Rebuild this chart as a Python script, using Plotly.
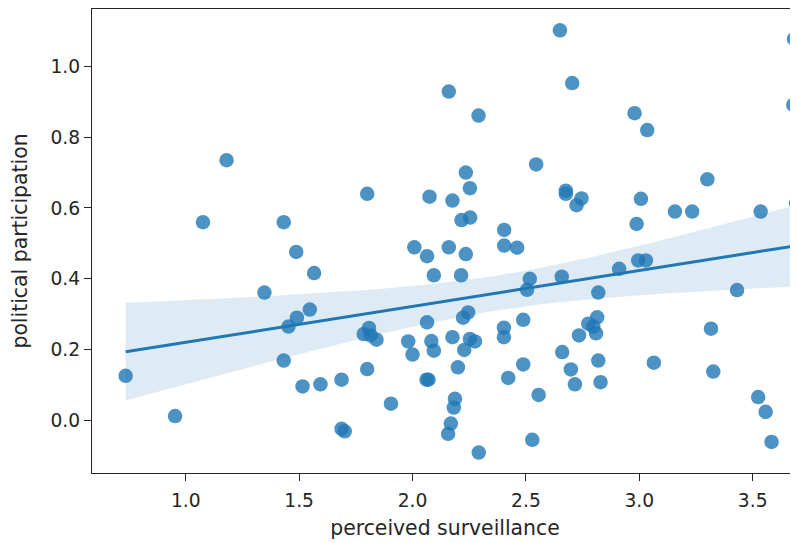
import numpy as np
import plotly.graph_objects as go

# perceived surveillance (x) and political participation (y)
surveillance = [
    0.735, 0.953, 1.076, 1.180, 1.347, 1.432, 1.432, 1.453, 1.490, 1.487,
    1.547, 1.566, 1.515, 1.594, 1.687, 1.687, 1.701, 1.785, 1.808, 1.815,
    1.841, 1.800, 1.800, 1.905, 1.981, 2.000, 2.008, 2.064, 2.064, 2.075,
    2.083, 2.094, 2.094, 2.062, 2.070, 2.160, 2.160, 2.176, 2.176, 2.200,
    2.187, 2.182, 2.169, 2.157, 2.214, 2.216, 2.254, 2.235, 2.253, 2.235,
    2.223, 2.245, 2.228, 2.253, 2.275, 2.291, 2.292, 2.404, 2.404, 2.461,
    2.403, 2.403, 2.422, 2.488, 2.488, 2.517, 2.505, 2.528, 2.545, 2.556,
    2.650, 2.658, 2.660, 2.676, 2.676, 2.698, 2.704, 2.716, 2.723, 2.734,
    2.745, 2.775, 2.797, 2.809, 2.814, 2.819, 2.819, 2.829, 2.911, 2.979,
    2.988, 2.995, 3.007, 3.029, 3.035, 3.064, 3.157, 3.233, 3.300, 3.316,
    3.326, 3.431, 3.524, 3.535, 3.557, 3.583, 3.682, 3.679, 3.691,
]
participation = [
    0.126, 0.012, 0.560, 0.735, 0.361, 0.560, 0.169, 0.265, 0.290, 0.476,
    0.313, 0.416, 0.096, 0.102, 0.115, -0.024, -0.031, 0.244, 0.261, 0.240,
    0.228, 0.145, 0.640, 0.047, 0.223, 0.186, 0.489, 0.464, 0.277, 0.632,
    0.224, 0.197, 0.410, 0.115, 0.115, 0.929, 0.489, 0.621, 0.235, 0.150,
    0.061, 0.036, -0.009, -0.038, 0.410, 0.566, 0.573, 0.700, 0.656, 0.470,
    0.290, 0.305, 0.199, 0.230, 0.223, 0.861, -0.091, 0.538, 0.494, 0.488,
    0.262, 0.235, 0.120, 0.284, 0.158, 0.400, 0.369, -0.055, 0.723, 0.072,
    1.102, 0.406, 0.193, 0.649, 0.640, 0.144, 0.953, 0.102, 0.608, 0.240,
    0.627, 0.273, 0.265, 0.246, 0.291, 0.361, 0.169, 0.108, 0.428, 0.868,
    0.555, 0.452, 0.626, 0.452, 0.820, 0.163, 0.590, 0.590, 0.681, 0.259,
    0.138, 0.368, 0.066, 0.590, 0.024, -0.061, 1.078, 0.891, 0.614,
]

x_ticks = [1.0, 1.5, 2.0, 2.5, 3.0, 3.5]
y_ticks = [0.0, 0.2, 0.4, 0.6, 0.8, 1.0]

x = np.array(surveillance)
y = np.array(participation)
n = len(x)

# ordinary least squares fit and 95% confidence band for the mean
slope, intercept = np.polyfit(x, y, 1)
resid = y - (intercept + slope * x)
s = np.sqrt(np.sum(resid ** 2) / (n - 2))
xbar = x.mean()
sxx = np.sum((x - xbar) ** 2)
grid = np.linspace(x.min(), x.max(), 100)
fit = intercept + slope * grid
se = s * np.sqrt(1.0 / n + (grid - xbar) ** 2 / sxx)
t_crit = 1.982
upper = fit + t_crit * se
lower = fit - t_crit * se

blue = "#1f77b4"
text_col = "#262626"

fig = go.Figure()
fig.add_trace(go.Scatter(
    x=np.concatenate([grid, grid[::-1]]),
    y=np.concatenate([upper, lower[::-1]]),
    fill="toself", fillcolor="rgba(31,119,180,0.15)",
    line=dict(width=0), mode="lines", hoverinfo="skip", showlegend=False,
))
fig.add_trace(go.Scatter(
    x=x, y=y, mode="markers",
    marker=dict(color=blue, size=14.5, opacity=0.8, line=dict(width=0)),
    showlegend=False,
))
fig.add_trace(go.Scatter(
    x=grid, y=fit, mode="lines",
    line=dict(color=blue, width=3), showlegend=False,
))

axis_common = dict(
    showgrid=False, zeroline=False, showline=True, linecolor="#262626",
    linewidth=1.3, ticks="outside", ticklen=7, tickwidth=1.3,
    tickcolor="#262626", automargin=False,
    tickfont=dict(family="DejaVu Sans", size=18.7, color=text_col),
)

# the page body adds an 8px offset, so margins are shifted to compensate
fig.update_layout(
    width=798, height=543,
    margin=dict(l=84, r=8, t=1, b=78),
    paper_bgcolor="white", plot_bgcolor="white",
    xaxis=dict(
        range=[0.5867, 3.6996], tickvals=x_ticks, tickformat=".1f",
        mirror=True, ticklabelstandoff=3,
        title=dict(text="perceived surveillance", standoff=11,
                   font=dict(family="DejaVu Sans", size=20.4, color=text_col)),
        **axis_common,
    ),
    yaxis=dict(
        range=[-0.1487, 1.1622], tickvals=y_ticks, tickformat=".1f",
        mirror=False,
        title=dict(text="political participation", standoff=18,
                   font=dict(family="DejaVu Sans", size=20.4, color=text_col)),
        **axis_common,
    ),
)

fig.write_html("out.html")
